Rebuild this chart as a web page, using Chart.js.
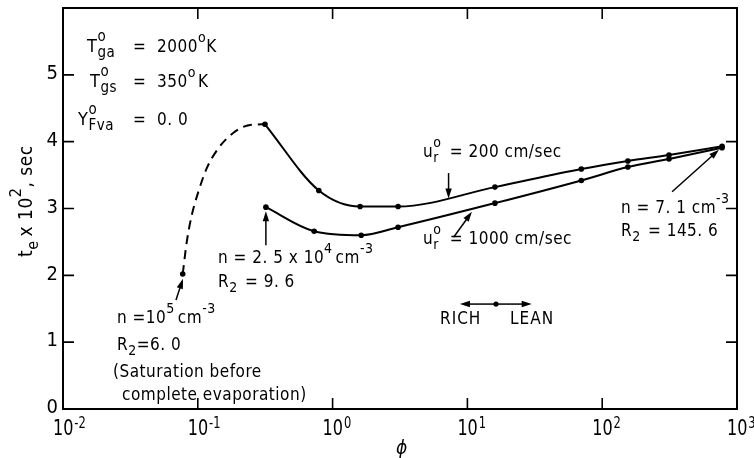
<!DOCTYPE html>
<html>
<head>
<meta charset="utf-8">
<script src="https://cdn.jsdelivr.net/npm/chart.js@4"></script>
<style>
  html, body { margin: 0; padding: 0; background: #fff; }
  #wrap { width: 754px; height: 458px; }
</style>
</head>
<body>
<div id="wrap"><canvas id="grafica" width="754" height="458"></canvas></div>
<script>
// ── DATOS ─────────────────────────────────────────────────────
// u_r = 200 cm/sec
const phiLento = [0.315, 0.79, 1.6, 3.06, 16, 70, 155, 313, 775];
const teLento  = [4.26, 3.27, 3.03, 3.03, 3.32, 3.59, 3.71, 3.80, 3.93];
// u_r = 1000 cm/sec
const phiRapido = [0.32, 0.73, 1.63, 3.06, 16, 70, 155, 313, 775];
const teRapido  = [3.02, 2.66, 2.60, 2.72, 3.08, 3.42, 3.62, 3.74, 3.91];
// tramo de saturación (trazo discontinuo)
const phiSat = [0.0773, 0.0828, 0.0902, 0.101, 0.1164, 0.142, 0.183, 0.244, 0.315];
const teSat  = [2.02, 2.50, 2.90, 3.25, 3.60, 3.90, 4.13, 4.25, 4.26];

const yTicks = [0, 1, 2, 3, 4, 5];
const xExpo  = [-2, -1, 0, 1, 2, 3];

const FUENTE = "'DejaVu Sans Condensed', 'Liberation Sans Narrow', sans-serif";

function puntos(xs, ys) { return xs.map((x, i) => ({ x: x, y: ys[i] })); }

// texto con superíndices / subíndices
function texto(ctx, x, y, partes, size) {
    let cx = x;
    ctx.letterSpacing = '0.5px';
    partes.forEach(p => {
        if (typeof p === 'string') {
            ctx.font = size + 'px ' + FUENTE;
            ctx.fillText(p, cx, y);
            cx += ctx.measureText(p).width;
        } else {
            const s = Math.round(size * 0.85);
            ctx.font = s + 'px ' + FUENTE;
            let w = 0;
            if (p.sup) { ctx.fillText(p.sup, cx, y - size * 0.6); w = Math.max(w, ctx.measureText(p.sup).width); }
            if (p.sub) { ctx.fillText(p.sub, cx, y + size * 0.3); w = Math.max(w, ctx.measureText(p.sub).width); }
            cx += w + (p.gap || 0);
        }
    });
    ctx.letterSpacing = '0px';
    return cx;
}

function flecha(ctx, x1, y1, x2, y2, head) {
    const a = Math.atan2(y2 - y1, x2 - x1);
    const h = head || 10;
    ctx.beginPath();
    ctx.moveTo(x1, y1);
    ctx.lineTo(x2 - Math.cos(a) * h * 0.6, y2 - Math.sin(a) * h * 0.6);
    ctx.stroke();
    ctx.beginPath();
    ctx.moveTo(x2, y2);
    ctx.lineTo(x2 - h * Math.cos(a) + 3.2 * Math.sin(a), y2 - h * Math.sin(a) - 3.2 * Math.cos(a));
    ctx.lineTo(x2 - h * Math.cos(a) - 3.2 * Math.sin(a), y2 - h * Math.sin(a) + 3.2 * Math.cos(a));
    ctx.closePath();
    ctx.fill();
}

// marco, marcas hacia dentro, etiquetas y anotaciones
const marcoPlugin = {
    id: 'marco',
    afterDatasetsDraw(chart) {
        const ctx = chart.ctx;
        const a = chart.chartArea;
        const sx = chart.scales.x, sy = chart.scales.y;
        const px = v => sx.getPixelForValue(v);
        const py = v => sy.getPixelForValue(v);
        ctx.save();
        ctx.strokeStyle = '#000';
        ctx.fillStyle = '#000';

        ctx.lineWidth = 2;
        ctx.strokeRect(a.left, a.top, a.right - a.left, a.bottom - a.top);

        const L = 11;
        ctx.lineWidth = 1.6;
        ctx.beginPath();
        yTicks.slice(1).forEach(v => {
            const y = py(v);
            ctx.moveTo(a.left, y);  ctx.lineTo(a.left + L, y);
            ctx.moveTo(a.right, y); ctx.lineTo(a.right - L, y);
        });
        xExpo.slice(1, -1).forEach(e => {
            const x = px(Math.pow(10, e));
            ctx.moveTo(x, a.bottom); ctx.lineTo(x, a.bottom - L);
            ctx.moveTo(x, a.top);    ctx.lineTo(x, a.top + L);
        });
        ctx.stroke();

        // etiquetas eje y
        ctx.textAlign = 'right';
        ctx.textBaseline = 'middle';
        ctx.font = '20px ' + FUENTE;
        yTicks.forEach(v => ctx.fillText(String(v), a.left - 5, py(v) - 1));

        // etiquetas eje x (10^n), algo estrechadas
        ctx.textAlign = 'left';
        ctx.textBaseline = 'alphabetic';
        xExpo.forEach(e => {
            const x = px(Math.pow(10, e));
            ctx.save();
            ctx.translate(x - 10, 435);
            ctx.scale(0.85, 1);
            ctx.font = '21px ' + FUENTE;
            ctx.fillText('10', 0, 0);
            const w = ctx.measureText('10').width;
            ctx.font = '15px ' + FUENTE;
            ctx.fillText(e < 0 ? '-' + (-e) : String(e), w + 1, -7);
            ctx.restore();
        });

        // títulos de ejes
        ctx.font = 'italic 19px ' + FUENTE;
        ctx.fillText('\u03d5', 396, 454);
        ctx.save();
        ctx.translate(32, 257);
        ctx.rotate(-Math.PI / 2);
        texto(ctx, 0, 0, ['t', { sub: 'e', gap: 4 }, 'x 10', { sup: '2' }, ', sec'], 19);
        ctx.restore();

        // condiciones
        const f = 17;
        texto(ctx, 87, 52,  ['T', { sup: 'o', sub: 'ga' }], 18);
        texto(ctx, 133, 52, ['=  2000', { sup: 'o' }, 'K'], f);
        texto(ctx, 90, 87,  ['T', { sup: 'o', sub: 'gs' }], 18);
        texto(ctx, 133, 87, ['=  350', { sup: 'o', gap: 2 }, 'K'], f);
        texto(ctx, 78, 125, ['Y', { sup: 'o', sub: 'Fva' }], 18);
        texto(ctx, 133, 125, ['=  0. 0'], f);

        // anotaciones
        texto(ctx, 117, 323, ['n =10', { sup: '5', gap: 3 }, 'cm', { sup: '-3' }], f);
        texto(ctx, 117, 350, ['R', { sub: '2' }, '=6. 0'], f);
        texto(ctx, 113, 377, ['(Saturation before'], f);
        texto(ctx, 122, 400, ['complete evaporation)'], f);

        texto(ctx, 218, 263, ['n = 2. 5 x 10', { sup: '4', gap: 3 }, 'cm', { sup: '-3' }], f);
        texto(ctx, 218, 287, ['R', { sub: '2', gap: 2 }, ' = 9. 6'], f);

        texto(ctx, 423, 157, ['u', { sup: 'o', sub: 'r', gap: 3 }, ' = 200 cm/sec'], f);
        texto(ctx, 423, 244, ['u', { sup: 'o', sub: 'r', gap: 3 }, ' = 1000 cm/sec'], f);

        texto(ctx, 621, 213, ['n = 7. 1 cm', { sup: '-3' }], f);
        texto(ctx, 621, 236, ['R', { sub: '2', gap: 2 }, ' = 145. 6'], f);

        ctx.font = f + 'px ' + FUENTE;
        ctx.letterSpacing = '1px';
        ctx.fillText('RICH', 440, 324);
        ctx.fillText('LEAN', 510, 324);
        ctx.letterSpacing = '0px';

        // flechas (coordenadas de datos)
        ctx.lineWidth = 1.5;
        flecha(ctx, px(0.32), py(2.45), px(0.32), py(2.96));
        flecha(ctx, px(0.0689), py(1.63), px(0.0776), py(1.95));
        flecha(ctx, px(7.25), py(3.53), px(7.25), py(3.15));
        flecha(ctx, px(7.9), py(2.57), px(10.8), py(2.95));
        flecha(ctx, px(330), py(3.25), px(735), py(3.88));
        flecha(ctx, px(16.3), py(1.57), px(8.8), py(1.57));
        flecha(ctx, px(16.3), py(1.57), px(30), py(1.57));
        ctx.beginPath();
        ctx.arc(px(16.3), py(1.57), 2.6, 0, Math.PI * 2);
        ctx.fill();

        ctx.restore();
    }
};

const estiloLinea = {
    borderColor: '#000',
    backgroundColor: '#000',
    borderWidth: 2,
    pointRadius: 2.8,
    pointHoverRadius: 2.8,
    pointBorderWidth: 0,
    cubicInterpolationMode: 'monotone',
    fill: false
};

new Chart(document.getElementById('grafica'), {
    type: 'line',
    data: {
        datasets: [
            Object.assign({ data: puntos(phiLento, teLento) }, estiloLinea),
            Object.assign({ data: puntos(phiRapido, teRapido) }, estiloLinea),
            Object.assign({}, estiloLinea, {
                data: puntos(phiSat, teSat),
                borderDash: [9, 6],
                pointRadius: phiSat.map((v, i) => i === 0 ? 2.8 : 0)
            })
        ]
    },
    options: {
        responsive: false,
        animation: false,
        devicePixelRatio: 1,
        layout: { padding: { left: 63, right: 17, top: 8, bottom: 49 } },
        plugins: { legend: { display: false }, tooltip: { enabled: false } },
        scales: {
            x: { type: 'logarithmic', min: 0.01, max: 1000, display: false },
            y: { type: 'linear', min: 0, max: 6, display: false }
        }
    },
    plugins: [marcoPlugin]
});
</script>
</body>
</html>
